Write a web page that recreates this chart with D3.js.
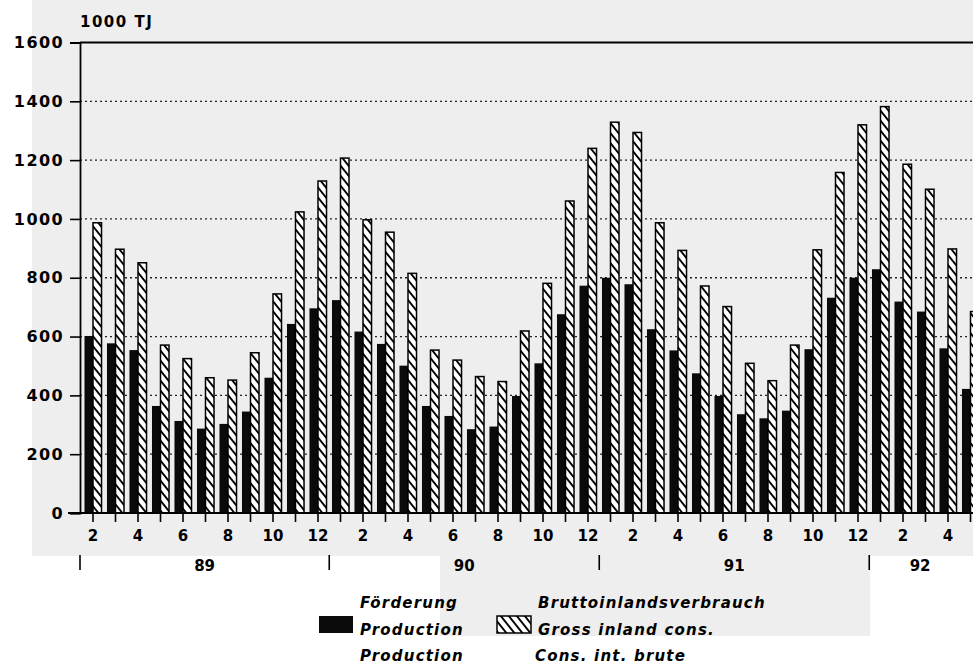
<!DOCTYPE html>
<html>
<head>
<meta charset="utf-8">
<script src="https://cdn.jsdelivr.net/npm/d3@7/dist/d3.min.js"></script>
<style>
  html, body { margin: 0; padding: 0; background: #ffffff; }
  svg { display: block; }
  text { font-family: "DejaVu Sans", sans-serif; font-weight: bold; fill: #000; }
</style>
</head>
<body>
<script>
// ---- data (1000 TJ) ----
const periods = [
  "1989-02","1989-03","1989-04","1989-05","1989-06","1989-07","1989-08","1989-09","1989-10","1989-11","1989-12",
  "1990-01","1990-02","1990-03","1990-04","1990-05","1990-06","1990-07","1990-08","1990-09","1990-10","1990-11","1990-12",
  "1991-01","1991-02","1991-03","1991-04","1991-05","1991-06","1991-07","1991-08","1991-09","1991-10","1991-11","1991-12",
  "1992-01","1992-02","1992-03","1992-04","1992-05"
];
const production = [
  602,577,554,364,313,287,303,345,460,643,696,
  724,617,575,501,364,330,285,294,398,509,676,773,
  800,778,625,553,475,398,336,322,348,557,732,800,
  829,719,685,560,422
];
const consumption = [
  987,897,851,571,525,460,452,545,745,1024,1129,
  1207,997,955,815,554,520,464,447,619,781,1061,1240,
  1329,1294,987,893,772,702,509,450,571,895,1158,1320,
  1382,1186,1101,898,685
];
const yTicks = [0,200,400,600,800,1000,1200,1400,1600];
const monthTickLabels = ["2","4","6","8","10","12"];
const years = ["89","90","91","92"];
const unitLabel = "1000 TJ";
const legendProd = ["Förderung","Production","Production"];
const legendCons = ["Bruttoinlandsverbrauch","Gross inland cons.","Cons. int. brute"];

const W = 973, H = 664;
const svg = d3.select("body").append("svg").attr("width", W).attr("height", H);

// scanned page tone
svg.append("rect").attr("x", 0).attr("y", 0).attr("width", W).attr("height", H).attr("fill", "#ffffff");
svg.append("rect").attr("x", 32).attr("y", 0).attr("width", W - 32).attr("height", 556).attr("fill", "#eeeeee");
svg.append("rect").attr("x", 440).attr("y", 556).attr("width", 430).attr("height", 80).attr("fill", "#eeeeee");

const defs = svg.append("defs");
const pat = defs.append("pattern").attr("id", "hatch")
  .attr("patternUnits", "userSpaceOnUse").attr("width", 8).attr("height", 10);
pat.append("rect").attr("width", 8).attr("height", 10).attr("fill", "#ffffff");
pat.append("path").attr("d", "M-2,-2.5 L10,12.5 M-10,-2.5 L2,12.5 M6,-2.5 L18,12.5")
  .attr("stroke", "#000").attr("stroke-width", 1.9);

const axisX = 80;
const y = d3.scaleLinear().domain([0, 1600]).range([513, 42.5]);
const x = d3.scaleBand().domain(periods).range([81.75, 81.75 + 22.5 * periods.length]).padding(0);
const xs = d3.scaleBand().domain(["p", "c"]).range([0, x.bandwidth()]).paddingInner(0).paddingOuter(0.32);

// grid lines (dotted)
svg.append("g").selectAll("line").data(yTicks.filter(t => t > 0 && t < 1600)).join("line")
  .attr("x1", axisX).attr("x2", W)
  .attr("y1", d => y(d)).attr("y2", d => y(d))
  .attr("stroke", "#222").attr("stroke-width", 1.3).attr("stroke-dasharray", "2,3");
// top solid line
svg.append("line").attr("x1", axisX).attr("x2", W).attr("y1", y(1600)).attr("y2", y(1600))
  .attr("stroke", "#000").attr("stroke-width", 1.8);

// bars
const gBars = svg.append("g");
gBars.selectAll("rect.p").data(periods).join("rect").attr("class", "p")
  .attr("x", d => x(d) + xs("p")).attr("width", xs.bandwidth())
  .attr("y", (d, i) => y(production[i])).attr("height", (d, i) => y(0) - y(production[i]))
  .attr("fill", "#0a0a0a");
gBars.selectAll("rect.c").data(periods).join("rect").attr("class", "c")
  .attr("x", d => x(d) + xs("c")).attr("width", xs.bandwidth())
  .attr("y", (d, i) => y(consumption[i])).attr("height", (d, i) => y(0) - y(consumption[i]))
  .attr("fill", "url(#hatch)").attr("stroke", "#000").attr("stroke-width", 1.5);

// y axis
const yAxis = d3.axisLeft(y).tickValues(yTicks).tickSize(10).tickPadding(6).tickFormat(d3.format("d"));
const gy = svg.append("g").attr("transform", `translate(${axisX},0)`).call(yAxis);
gy.select(".domain").attr("stroke", "#000").attr("stroke-width", 1.8);
gy.selectAll(".tick line").attr("stroke", "#000").attr("stroke-width", 1.6);
gy.selectAll(".tick text").style("font-size", "16px").style("font-family", "'DejaVu Sans', sans-serif")
  .style("font-weight", "bold").style("letter-spacing", "1.4px").attr("fill", "#000");

svg.append("text").attr("x", axisX).attr("y", 27).style("font-size", "15px")
  .style("letter-spacing", "1.5px").text(unitLabel);

// x axis baseline
svg.append("line").attr("x1", 68).attr("x2", W).attr("y1", y(0)).attr("y2", y(0))
  .attr("stroke", "#000").attr("stroke-width", 1.8);

// month ticks
const xAxis = d3.axisBottom(x).tickSize(9).tickPadding(8)
  .tickFormat(d => {
    const m = String(+d.slice(5));
    return monthTickLabels.includes(m) ? m : "";
  });
const gx = svg.append("g").attr("transform", `translate(0,${y(0)})`).call(xAxis);
gx.select(".domain").remove();
gx.selectAll(".tick line").attr("stroke", "#000").attr("stroke-width", 1.6);
gx.selectAll(".tick text").style("font-size", "15px").style("font-family", "'DejaVu Sans', sans-serif")
  .style("font-weight", "bold").attr("fill", "#000");

// year markers and labels
const center = d => x(d) + x.bandwidth() / 2;
const markers = years.map((yr, k) => {
  const jan = periods.indexOf("19" + yr + "-01");
  if (jan <= 0) return axisX;
  return (center(periods[jan - 1]) + center(periods[jan])) / 2;
});
const gYear = svg.append("g");
markers.forEach((mx, k) => {
  gYear.append("line").attr("x1", mx).attr("x2", mx).attr("y1", 555).attr("y2", 570)
    .attr("stroke", "#000").attr("stroke-width", 1.6);
  const nx = k < markers.length - 1 ? markers[k + 1] : W - 2;
  gYear.append("text").attr("x", (mx + nx) / 2).attr("y", 571).attr("text-anchor", "middle")
    .style("font-size", "15px").text(years[k]);
});

// legend
const lg = svg.append("g").style("font-style", "italic").style("letter-spacing", "1.2px");
lg.append("rect").attr("x", 319).attr("y", 616).attr("width", 34).attr("height", 17).attr("fill", "#0a0a0a");
legendProd.forEach((t, i) => {
  lg.append("text").attr("x", 360).attr("y", 608 + i * 26.5).style("font-size", "15px").text(t);
});
lg.append("rect").attr("x", 497).attr("y", 616).attr("width", 34).attr("height", 17)
  .attr("fill", "url(#hatch)").attr("stroke", "#000").attr("stroke-width", 1.5);
legendCons.forEach((t, i) => {
  lg.append("text").attr("x", i === 2 ? 535 : 538).attr("y", 608 + i * 26.5).style("font-size", "15px").text(t);
});
</script>
</body>
</html>
